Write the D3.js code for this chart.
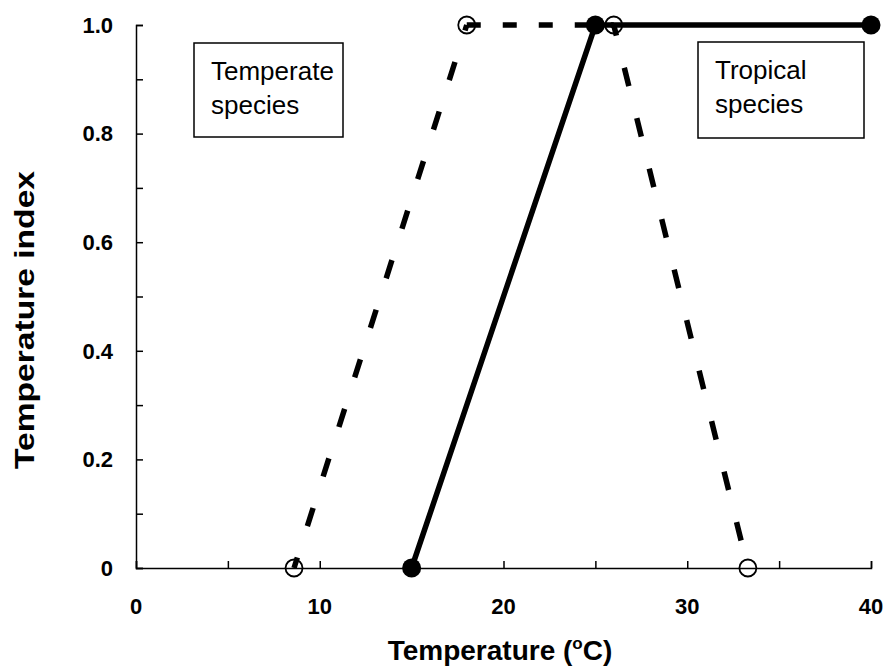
<!DOCTYPE html>
<html>
<head>
<meta charset="utf-8">
<script src="https://cdn.jsdelivr.net/npm/d3@7"></script>
<style>
  body { margin: 0; background: #fff; }
  text { font-family: "Liberation Sans", Arial, sans-serif; }
</style>
</head>
<body>
<div id="chart"></div>
<script>
// temperature (x) and index (y) for the two curves
const temperateX = [8.6, 18, 26, 33.3];
const temperateY = [0, 1, 1, 0];
const tropicalX = [15, 25, 40];
const tropicalY = [0, 1, 1];

const xTicks = [0, 10, 20, 30, 40];
const xMinor = [5, 15, 25, 35];
const yTicks = [0, 0.2, 0.4, 0.6, 0.8, 1.0];
const yTickLabels = ['0', '0.2', '0.4', '0.6', '0.8', '1.0'];
const yMinor = [0.1, 0.3, 0.5, 0.7, 0.9];

const labelTemperate = ['Temperate', 'species'];
const labelTropical = ['Tropical', 'species'];

const width = 884;
const height = 668;
const margin = {top: 25, right: 13, bottom: 100, left: 136};

const svg = d3.select('#chart').append('svg')
  .attr('width', width)
  .attr('height', height);

const x = d3.scaleLinear().domain([0, 40]).range([margin.left, width - margin.right]);
const y = d3.scaleLinear().domain([0, 1]).range([height - margin.bottom, margin.top]);

// axes - ticks point into the plot
const xAxis = svg.append('g')
  .attr('transform', `translate(0,${y(0)})`)
  .call(d3.axisTop(x).tickValues(xTicks.concat(xMinor)).tickSize(7).tickFormat(''));
const yAxis = svg.append('g')
  .attr('transform', `translate(${x(0)},0)`)
  .call(d3.axisRight(y).tickValues(yTicks.concat(yMinor)).tickSize(7).tickFormat(''));

[xAxis, yAxis].forEach(a => {
  a.select('.domain').attr('stroke', '#000').attr('stroke-width', 1.5);
  a.selectAll('.tick line').attr('stroke', '#000').attr('stroke-width', 1.5);
});

svg.append('g').selectAll('text')
  .data(xTicks)
  .join('text')
    .attr('x', d => x(d))
    .attr('y', 614)
    .attr('text-anchor', 'middle')
    .attr('font-size', 22)
    .attr('font-weight', 'bold')
    .text(d => d);

svg.append('g').selectAll('text')
  .data(yTicks)
  .join('text')
    .attr('x', 113)
    .attr('y', d => y(d))
    .attr('dy', '0.35em')
    .attr('text-anchor', 'end')
    .attr('font-size', 22)
    .attr('font-weight', 'bold')
    .text((d, i) => yTickLabels[i]);

// axis titles
const xTitle = svg.append('text')
  .attr('x', 500)
  .attr('y', 660)
  .attr('text-anchor', 'middle')
  .attr('font-size', 28)
  .attr('font-weight', 'bold');
xTitle.append('tspan').text('Temperature (');
xTitle.append('tspan').attr('font-size', 17).attr('dy', -11).text('o');
xTitle.append('tspan').attr('dy', 11).text('C)');

// y title looks stretched along its length in the original
svg.append('text')
  .attr('transform', `translate(34,320) rotate(-90)`)
  .attr('text-anchor', 'middle')
  .attr('font-size', 28)
  .attr('font-weight', 'bold')
  .attr('textLength', 298)
  .attr('lengthAdjust', 'spacingAndGlyphs')
  .text('Temperature index');

// label boxes
function labelBox(x0, y0, w, h, lines) {
  const g = svg.append('g');
  g.append('rect')
    .attr('x', x0).attr('y', y0)
    .attr('width', w).attr('height', h)
    .attr('fill', '#fff')
    .attr('stroke', '#000')
    .attr('stroke-width', 1.5);
  g.selectAll('text')
    .data(lines)
    .join('text')
      .attr('x', x0 + 17)
      .attr('y', (d, i) => y0 + 37 + i * 34)
      .attr('font-size', 26)
      .text(d => d);
}
labelBox(194, 43, 149, 94, labelTemperate);
labelBox(698, 42, 166, 96, labelTropical);

const line = d3.line().x(d => x(d[0])).y(d => y(d[1]));
const temperate = temperateX.map((v, i) => [v, temperateY[i]]);
const tropical = tropicalX.map((v, i) => [v, tropicalY[i]]);

// dashed temperate curve, drawn segment by segment; steep segments get longer dashes
const segs = d3.pairs(temperate);
svg.append('g').selectAll('path')
  .data(segs)
  .join('path')
    .attr('d', d => line(d))
    .attr('fill', 'none')
    .attr('stroke', '#000')
    .attr('stroke-width', 5.5)
    .attr('stroke-dasharray', d => d[0][1] === d[1][1] ? '14,22' : '19,33')
    .attr('stroke-dashoffset', d => d[0][1] === d[1][1] ? 0 : 8);

svg.append('path')
  .datum(tropical)
  .attr('d', line)
  .attr('fill', 'none')
  .attr('stroke', '#000')
  .attr('stroke-width', 5.5);

svg.append('g').selectAll('circle')
  .data(tropical)
  .join('circle')
    .attr('cx', d => x(d[0]))
    .attr('cy', d => y(d[1]))
    .attr('r', 9.5)
    .attr('fill', '#000');

svg.append('g').selectAll('circle')
  .data(temperate)
  .join('circle')
    .attr('cx', d => x(d[0]))
    .attr('cy', d => y(d[1]))
    .attr('r', 8.5)
    .attr('fill', 'none')
    .attr('stroke', '#000')
    .attr('stroke-width', 1.8);
</script>
</body>
</html>
